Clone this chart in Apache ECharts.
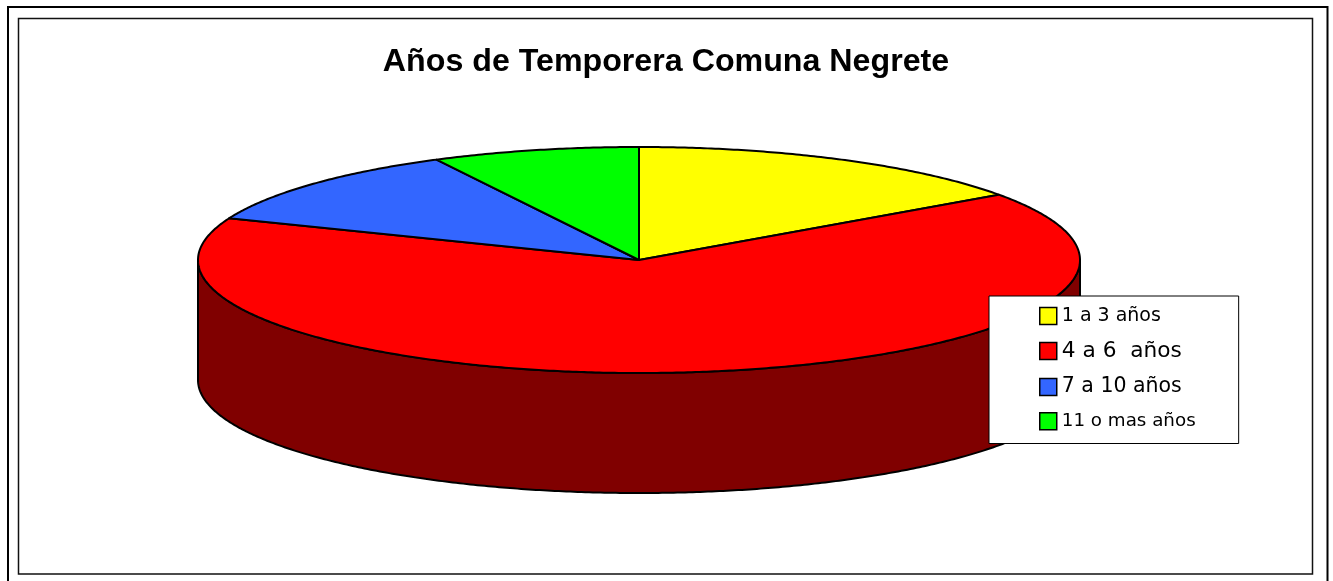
<!DOCTYPE html>
<html>
<head>
<meta charset="utf-8">
<style>html,body{margin:0;padding:0;background:#fff}#c{width:1333px;height:581px}</style>
<script src="https://cdn.jsdelivr.net/npm/echarts@6/dist/echarts.min.js"></script>
</head>
<body>
<div id="c"></div>
<script>
const chartTitle = 'Años de Temporera Comuna Negrete';
const categories = ['1 a 3 años', '4 a 6  años', '7 a 10 años', '11 o mas años'];
const counts = [12, 52, 9, 6];
const topColors = ['#FFFF00', '#FF0000', '#3366FF', '#00FF00'];
const sideColors = ['#808000', '#800000', '#1A337F', '#008000'];
const legendFontSizes = [19, 21.7, 20.5, 18.3];

const total = counts.reduce((a, b) => a + b, 0);
const cx = 639, cy = 260, rx = 441, ry = 113, depth = 120;
const pt = (deg, dy) => {
  const r = deg * Math.PI / 180;
  return [cx + rx * Math.sin(r), cy - ry * Math.cos(r) + dy];
};
const arc = (a, b, dy) => {
  const n = Math.max(2, Math.ceil(Math.abs(b - a) * 2));
  const out = [];
  for (let i = 0; i <= n; i++) out.push(pt(a + (b - a) * i / n, dy));
  return out;
};
let running = 0;
const starts = counts.map(v => { const s = running; running += v; return s; });

const series = categories.map((name, i) => ({
  type: 'custom',
  name,
  coordinateSystem: 'none',
  z: 2,
  silent: true,
  itemStyle: { color: topColors[i] },
  data: [[starts[i], counts[i]]],
  renderItem(params, api) {
    const a = api.value(0) / total * 360;
    const b = a + api.value(1) / total * 360;
    const children = [];
    const sa = Math.max(a, 90), sb = Math.min(b, 270);
    if (sb > sa) {
      children.push({
        type: 'polygon',
        shape: { points: arc(sa, sb, 0).concat(arc(sb, sa, depth)) },
        style: { fill: sideColors[i], stroke: '#000', lineWidth: 2, lineJoin: 'round' }
      });
    }
    children.push({
      type: 'polygon',
      shape: { points: [[cx, cy]].concat(arc(a, b, 0)) },
      style: { fill: topColors[i], stroke: '#000', lineWidth: 2, lineJoin: 'round' }
    });
    return { type: 'group', children };
  }
}));

const chart = echarts.init(document.getElementById('c'), null, { renderer: 'canvas' });
chart.setOption({
  animation: false,
  backgroundColor: '#fff',
  title: {
    text: chartTitle,
    left: 661,
    top: 41,
    textAlign: 'center',
    textStyle: { fontFamily: 'Liberation Sans', fontWeight: 'bold', fontSize: 32.2, color: '#000' }
  },
  legend: {
    orient: 'vertical',
    left: 989,
    top: 296,
    z: 6,
    align: 'left',
    padding: [10.5, 43, 13, 50],
    itemWidth: 17,
    itemHeight: 17,
    itemGap: 14.5,
    backgroundColor: '#fff',
    borderColor: '#000',
    borderWidth: 1,
    selectedMode: false,
    itemStyle: { borderColor: '#000', borderWidth: 1.5 },
    data: categories.map((name, i) => ({
      name,
      icon: 'rect',
      textStyle: { fontFamily: 'DejaVu Sans', fontSize: legendFontSizes[i], color: '#000' }
    }))
  },
  graphic: [
    { type: 'rect', z: 1, silent: true, shape: { x: 8, y: 7, width: 1319.5, height: 590 },
      style: { fill: 'none', stroke: '#000', lineWidth: 2 } },
    { type: 'rect', z: 1, silent: true, shape: { x: 18.5, y: 18.5, width: 1294, height: 555.5 },
      style: { fill: 'none', stroke: '#111', lineWidth: 1.5 } }
  ],
  series
});
</script>
</body>
</html>
